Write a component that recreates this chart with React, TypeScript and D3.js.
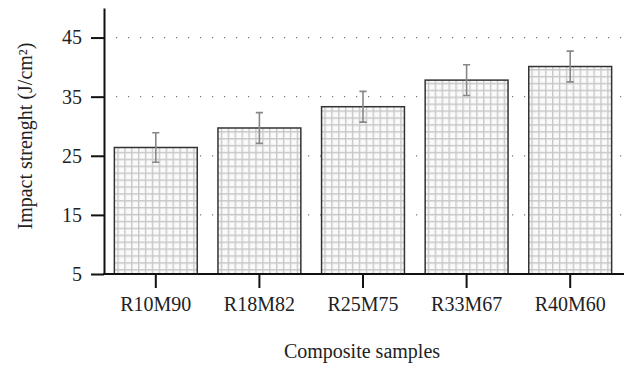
import { useEffect, useRef } from 'react';
import * as d3 from 'd3';

const samples = ['R10M90', 'R18M82', 'R25M75', 'R33M67', 'R40M60'];
const impact = [26.4, 29.7, 33.3, 37.8, 40.1];
const impactErr = [2.5, 2.6, 2.6, 2.6, 2.6];
const yTicks = [5, 15, 25, 35, 45];

export default function App() {
    const svgRef = useRef<SVGSVGElement>(null);
    const width = 624;
    const height = 365;

    useEffect(() => {
        if (!svgRef.current) return;
        const svg = d3.select(svgRef.current);
        svg.selectAll('*').remove();

        const font = '"Liberation Serif", "Times New Roman", serif';
        const fontSize = '20px';
        const margin = { top: 8, right: 0, bottom: 91, left: 104 };
        const bottom = height - margin.bottom;

        // grid pattern fill for the bars
        const defs = svg.append('defs');
        const pat = defs.append('pattern')
            .attr('id', 'grid-fill')
            .attr('patternUnits', 'userSpaceOnUse')
            .attr('width', 6.9)
            .attr('height', 6.9);
        pat.append('rect')
            .attr('width', 6.9)
            .attr('height', 6.9)
            .attr('fill', '#fafafa');
        pat.append('path')
            .attr('d', 'M0,0.7H6.9M0.7,0V6.9')
            .attr('stroke', '#c8c8c8')
            .attr('stroke-width', 1.4)
            .attr('fill', 'none');

        const x = d3.scaleBand<string>()
            .domain(samples)
            .range([margin.left, 622])
            .paddingInner(0.2)
            .paddingOuter(0.1);

        const y = d3.scaleLinear()
            .domain([5, 50])
            .range([bottom, margin.top]);

        // dotted grid lines
        svg.append('g')
            .selectAll('line')
            .data(yTicks.filter(t => t > 5))
            .enter().append('line')
            .attr('x1', margin.left + 12)
            .attr('x2', width)
            .attr('y1', d => y(d))
            .attr('y2', d => y(d))
            .attr('stroke', '#777')
            .attr('stroke-width', 1.2)
            .attr('stroke-dasharray', '1.2,10.8');

        // bars
        svg.append('g')
            .selectAll('rect')
            .data(impact)
            .enter().append('rect')
            .attr('x', (d, i) => x(samples[i])!)
            .attr('y', d => y(d))
            .attr('width', x.bandwidth())
            .attr('height', d => bottom - y(d))
            .attr('fill', 'url(#grid-fill)')
            .attr('stroke', '#333')
            .attr('stroke-width', 1.5);

        // error bars
        const eg = svg.append('g')
            .attr('stroke', '#888')
            .attr('stroke-width', 1.6)
            .attr('fill', 'none');
        impact.forEach((v, i) => {
            const cx = x(samples[i])! + x.bandwidth() / 2;
            const top = y(v + impactErr[i]);
            const bot = y(v - impactErr[i]);
            eg.append('path')
                .attr('d', `M${cx},${top}V${bot}M${cx - 3.6},${top}H${cx + 3.6}M${cx - 3.6},${bot}H${cx + 3.6}`);
        });

        // y axis
        const yAxis = svg.append('g')
            .attr('transform', `translate(${margin.left},0)`)
            .call(d3.axisLeft(y).tickValues(yTicks).tickSize(13).tickPadding(9).tickSizeOuter(0));
        yAxis.select('.domain').attr('stroke', '#111').attr('stroke-width', 2);
        yAxis.selectAll('.tick line').attr('stroke', '#111').attr('stroke-width', 2);
        yAxis.selectAll('.tick text')
            .attr('fill', '#222')
            .style('font-family', font)
            .style('font-size', fontSize);

        // x axis
        svg.append('line')
            .attr('x1', margin.left - 1)
            .attr('x2', width)
            .attr('y1', bottom)
            .attr('y2', bottom)
            .attr('stroke', '#111')
            .attr('stroke-width', 2);
        const xAxis = svg.append('g')
            .attr('transform', `translate(0,${bottom})`)
            .call(d3.axisBottom(x).tickSize(14).tickPadding(9).tickSizeOuter(0));
        xAxis.select('.domain').remove();
        xAxis.selectAll('.tick line').attr('stroke', '#111').attr('stroke-width', 2);
        xAxis.selectAll('.tick text')
            .attr('fill', '#222')
            .style('font-family', font)
            .style('font-size', fontSize);

        // axis titles
        svg.append('text')
            .attr('transform', `translate(32,136) rotate(-90)`)
            .attr('text-anchor', 'middle')
            .attr('fill', '#222')
            .style('font-family', font)
            .style('font-size', fontSize)
            .text('Impact strenght (J/cm²)');

        svg.append('text')
            .attr('x', 362)
            .attr('y', 358)
            .attr('text-anchor', 'middle')
            .attr('fill', '#222')
            .style('font-family', font)
            .style('font-size', fontSize)
            .text('Composite samples');
    }, []);

    return (
        <svg
            ref={svgRef}
            width={width}
            height={height}
            style={{ position: 'absolute', left: 0, top: 0, background: '#fff' }}
        />
    );
}
